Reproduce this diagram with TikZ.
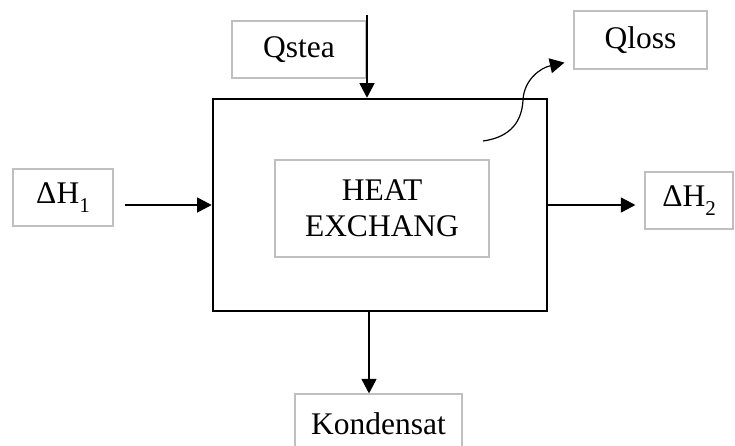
\documentclass[tikz,border=0pt]{standalone}
\usepackage{fontspec}
\setmainfont{Liberation Serif}
\usetikzlibrary{arrows.meta,calc}
\newcommand{\lowsub}[1]{\raisebox{-0.28em}{\fontsize{21}{21}\selectfont #1}}
\begin{document}
\begin{tikzpicture}[x=1pt,y=-1pt,
  label box/.style={draw=black!25,line width=1.2pt,fill=white,inner sep=0pt,
    font=\fontsize{31.5}{36}\selectfont,align=center},
  unit box/.style={draw=black,line width=2.6pt,inner sep=0pt},
  arr/.style={line width=1.2pt,-{Triangle[length=14.5pt,width=15pt]}}]
\useasboundingbox (0,0) rectangle (735,445);
% process unit and its inner label
\node[unit box,minimum width=334pt,minimum height=212pt] (main) at (380,205) {};
\node[label box,minimum width=214pt,minimum height=97pt] (core) at (382,208.5)
  {HEAT\\EXCHANG};
% streams around the unit
\node[label box,minimum width=134pt,minimum height=57pt] (qs) at (299,49.5) {Qstea};
\node[label box,minimum width=133pt,minimum height=58pt] (ql) at (640.5,40) {Qloss};
\node[label box,minimum width=100pt,minimum height=57pt] (h1) at (63,197.5)
  {ΔH\lowsub{1}};
\node[label box,minimum width=88pt,minimum height=57pt] (h2) at (689,200.5)
  {ΔH\lowsub{2}};
\node[label box,minimum width=167pt,minimum height=60pt] (kd) at (378.5,424) {Kondensat};
% connectors
\coordinate (qin) at (367,15);
\draw[arr] (qin) -- (qin |- main.north);
\draw[arr] ([xshift=11pt]h1.east |- main.west) -- (main.west);
\draw[arr] (main.east) -- ([xshift=-9pt]h2.west |- main.east);
\draw[arr] ([xshift=-11pt]main.south) -- ([xshift=-11pt]main.south |- kd.north);
\coordinate (lossstart) at (483,141);
\draw[arr] (lossstart) .. controls (512,137) and (522,120) .. (523,100)
  .. controls (524,80) and (540,68) .. ($(ql.south west)+(-9,-7)$);
\end{tikzpicture}
\end{document}
